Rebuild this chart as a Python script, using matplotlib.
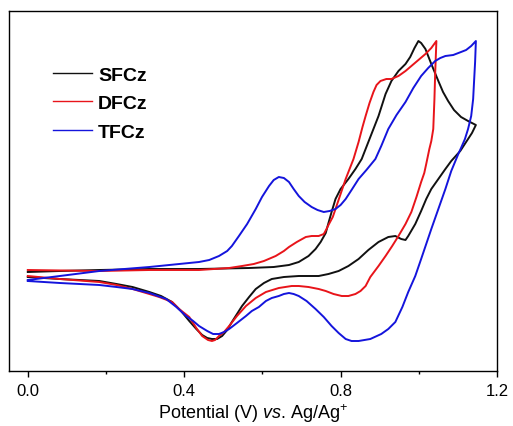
import matplotlib
matplotlib.use("Agg")
import matplotlib.pyplot as plt
from matplotlib.ticker import MultipleLocator

plt.rcParams['font.family'] = ['Liberation Sans', 'DejaVu Sans']
plt.rcParams['mathtext.fontset'] = 'custom'
plt.rcParams['mathtext.rm'] = 'Liberation Sans'
plt.rcParams['mathtext.it'] = 'Liberation Sans:italic'

# values: potential in V, current in arbitrary units
# forward (anodic) scan, then reverse scan back to 0 V

# SFCz
sfcz_fwd_v = [0.000, 0.082, 0.183, 0.311, 0.438, 0.566, 0.629, 0.668, 0.693, 0.718,
              0.736, 0.749, 0.762, 0.769, 0.777, 0.787, 0.800, 0.820, 0.838, 0.854,
              0.871, 0.897, 0.915, 0.930, 0.948, 0.966, 0.978, 0.989, 0.999, 1.006,
              1.017, 1.032, 1.050, 1.062, 1.075, 1.090, 1.108, 1.126, 1.146]
sfcz_fwd_i = [99, 100, 101, 102, 102, 103, 104, 106, 109, 115,
              122, 129, 138, 148, 159, 172, 182, 192, 202, 212,
              229, 255, 277, 290, 300, 307, 314, 323, 330, 328,
              322, 307, 290, 279, 270, 261, 254, 250, 246]
sfcz_rev_v = [1.136, 1.126, 1.106, 1.083, 1.068, 1.050, 1.032, 1.019, 1.006, 0.991,
              0.973, 0.966, 0.955, 0.940, 0.922, 0.897, 0.871, 0.846, 0.820, 0.795,
              0.769, 0.744, 0.693, 0.655, 0.624, 0.604, 0.583, 0.566, 0.548, 0.535,
              0.522, 0.510, 0.497, 0.484, 0.471, 0.459, 0.446, 0.431, 0.413, 0.392,
              0.369, 0.341, 0.311, 0.268, 0.227, 0.183, 0.082, 0.000]
sfcz_rev_i = [238, 232, 220, 210, 202, 192, 182, 172, 160, 147,
              135, 131, 132, 135, 134, 129, 121, 112, 105, 100,
              97, 95, 95, 94, 92, 88, 82, 74, 65, 57,
              49, 41, 35, 32, 32, 33, 36, 42, 50, 60,
              69, 75, 79, 84, 87, 90, 92, 94]

# DFCz
dfcz_fwd_v = [0.000, 0.183, 0.311, 0.438, 0.515, 0.548, 0.578, 0.604, 0.634, 0.655,
              0.668, 0.688, 0.711, 0.726, 0.744, 0.757, 0.764, 0.769, 0.780, 0.787,
              0.800, 0.813, 0.823, 0.833, 0.846, 0.856, 0.864, 0.874, 0.884, 0.892,
              0.902, 0.917, 0.930, 0.948, 0.966, 0.981, 0.999, 1.017, 1.032, 1.045]
dfcz_fwd_i = [101, 100, 101, 101, 103, 105, 107, 110, 115, 120,
              124, 129, 134, 135, 135, 137, 142, 146, 154, 162,
              177, 192, 202, 212, 229, 244, 255, 268, 279, 286,
              290, 292, 292, 295, 300, 305, 311, 317, 323, 330]
dfcz_rev_v = [1.042, 1.040, 1.037, 1.032, 1.027, 1.019, 1.014, 1.006, 0.994, 0.981,
              0.966, 0.948, 0.932, 0.915, 0.897, 0.876, 0.864, 0.851, 0.838, 0.820,
              0.803, 0.782, 0.762, 0.744, 0.718, 0.693, 0.675, 0.642, 0.609, 0.583,
              0.558, 0.535, 0.515, 0.502, 0.489, 0.479, 0.471, 0.461, 0.446, 0.431,
              0.413, 0.387, 0.369, 0.336, 0.311, 0.268, 0.227, 0.183, 0.082, 0.000]
dfcz_rev_i = [299, 272, 242, 230, 222, 207, 198, 189, 174, 159,
              147, 135, 125, 115, 105, 94, 85, 80, 77, 75,
              75, 77, 80, 82, 84, 85, 85, 83, 79, 73,
              65, 55, 45, 39, 35, 31, 30, 31, 35, 43,
              54, 62, 69, 74, 77, 82, 86, 89, 92, 95]

# TFCz
tfcz_fwd_v = [0.000, 0.082, 0.183, 0.311, 0.438, 0.464, 0.489, 0.510, 0.522, 0.540,
              0.561, 0.583, 0.599, 0.617, 0.629, 0.642, 0.655, 0.668, 0.680, 0.693,
              0.708, 0.726, 0.741, 0.757, 0.772, 0.787, 0.800, 0.813, 0.828, 0.846,
              0.866, 0.889, 0.904, 0.922, 0.943, 0.966, 0.986, 1.006, 1.024, 1.042,
              1.055, 1.068, 1.088, 1.108, 1.121, 1.134, 1.146]
tfcz_fwd_i = [91, 95, 100, 104, 109, 111, 115, 120, 125, 135,
              147, 162, 174, 185, 191, 194, 193, 189, 182, 175,
              169, 164, 161, 159, 160, 162, 166, 172, 181, 192,
              201, 212, 225, 242, 256, 269, 283, 295, 303, 310,
              313, 315, 316, 319, 321, 325, 330]
tfcz_rev_v = [1.144, 1.141, 1.139, 1.134, 1.126, 1.118, 1.108, 1.101, 1.083, 1.068,
              1.050, 1.032, 1.019, 1.006, 0.991, 0.973, 0.958, 0.940, 0.922, 0.904,
              0.876, 0.846, 0.828, 0.813, 0.795, 0.777, 0.757, 0.736, 0.713, 0.693,
              0.680, 0.668, 0.655, 0.642, 0.624, 0.609, 0.591, 0.573, 0.558, 0.535,
              0.515, 0.502, 0.489, 0.474, 0.459, 0.438, 0.423, 0.405, 0.380, 0.354,
              0.311, 0.268, 0.227, 0.183, 0.082, 0.000]
tfcz_rev_i = [309, 287, 272, 255, 242, 232, 223, 217, 200, 182,
              162, 142, 127, 112, 95, 79, 64, 49, 42, 37,
              32, 30, 30, 32, 38, 45, 54, 62, 70, 75,
              77, 78, 77, 75, 73, 70, 64, 60, 55, 48,
              42, 39, 37, 37, 40, 45, 50, 55, 64, 72,
              78, 82, 84, 86, 88, 90]

series = [("SFCz", sfcz_fwd_v + sfcz_rev_v, sfcz_fwd_i + sfcz_rev_i, "#111111"),
          ("DFCz", dfcz_fwd_v + dfcz_rev_v, dfcz_fwd_i + dfcz_rev_i, "#e8141a"),
          ("TFCz", tfcz_fwd_v + tfcz_rev_v, tfcz_fwd_i + tfcz_rev_i, "#1414dc")]

fig = plt.figure(figsize=(5.13, 4.27), dpi=100)
ax = fig.add_axes([9 / 513, 55 / 427, 488 / 513, 360 / 427])

for name, v, i, c in series:
    ax.plot(v, i, color=c, lw=1.4, label=name)

ax.set_xlim(-0.048, 1.2)
ax.set_ylim(0, 360)
ax.set_yticks([])
ax.xaxis.set_minor_locator(MultipleLocator(0.2))
ax.set_xticks([0.0, 0.4, 0.8, 1.2])
ax.set_xticklabels(["0.0", "0.4", "0.8", "1.2"])
ax.tick_params(axis='x', which='major', direction='out', length=4, width=1,
               labelsize=12, pad=5)
ax.tick_params(axis='x', which='minor', direction='out', length=2.2, width=1)
for s in ax.spines.values():
    s.set_linewidth(1.0)

ax.set_xlabel("Potential (V) $\\it{vs}$. Ag/Ag$^{+}$", fontsize=13, labelpad=2)

leg = ax.legend(loc='upper left', bbox_to_anchor=(0.055, 0.895), frameon=False,
                prop={'weight': 'bold', 'size': 14}, handlelength=2.0,
                handletextpad=0.3, labelspacing=0.55)
for line in leg.get_lines():
    line.set_linewidth(1.0)

fig.savefig("out.png", dpi=100)
